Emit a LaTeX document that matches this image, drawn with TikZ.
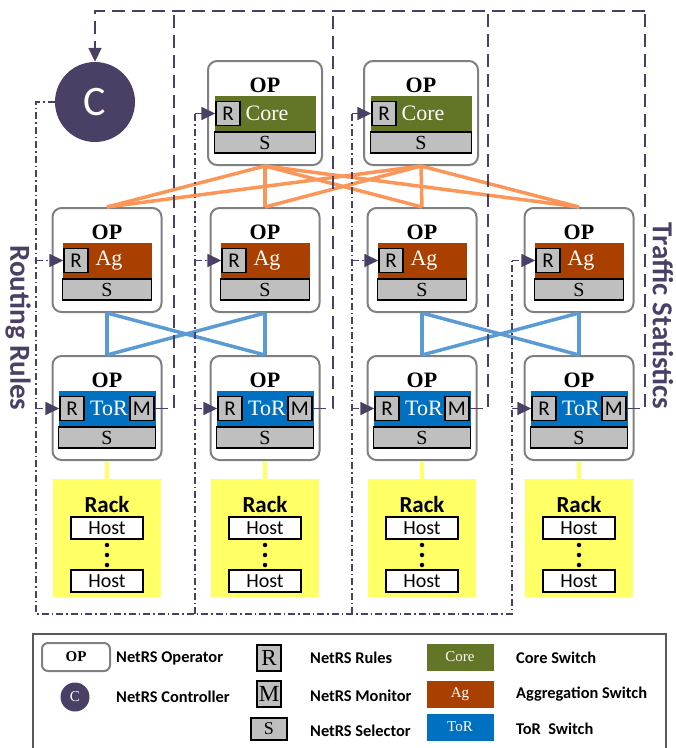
\documentclass[tikz,border=0pt]{standalone}
\usepackage{fontspec}
\setmainfont{Liberation Serif}
\setsansfont{Carlito}
\usetikzlibrary{arrows.meta,calc}
\definecolor{ctrl}{RGB}{74,64,102}
\definecolor{coreg}{RGB}{99,117,38}
\definecolor{agb}{RGB}{170,64,0}
\definecolor{torb}{RGB}{0,112,192}
\definecolor{gfill}{RGB}{191,191,191}
\definecolor{opgray}{RGB}{128,128,128}
\definecolor{orl}{RGB}{252,150,88}
\definecolor{bll}{RGB}{91,155,213}
\definecolor{rackY}{RGB}{255,255,102}
\tikzset{
  opbox/.style={draw=opgray, line width=2pt, rounded corners=9pt, fill=white, minimum width=109pt, minimum height=104pt, inner sep=0pt},
  optext/.style={font=\fontsize{22}{24}\selectfont\bfseries, inner sep=0pt},
  band/.style={rectangle, inner sep=0pt, minimum height=35pt},
  bandtext/.style={text=white, font=\fontsize{22}{24}\selectfont, inner sep=0pt},
  rbox/.style={draw=black, line width=1.6pt, fill=gfill, minimum width=24pt, minimum height=24pt, inner sep=0pt, font=\sffamily\fontsize{21}{22}\selectfont},
  sbar/.style={draw=black, line width=1.6pt, fill=gfill, minimum height=21pt, inner sep=0pt, font=\fontsize{20}{22}\selectfont},
  rackbox/.style={fill=rackY, minimum width=108pt, minimum height=118pt, inner sep=0pt},
  racktext/.style={font=\sffamily\bfseries\fontsize{23}{25}\selectfont, inner sep=0pt},
  hostbox/.style={draw=black, line width=1.6pt, fill=white, minimum width=72pt, minimum height=22pt, inner sep=0pt, font=\sffamily\fontsize{20}{22}\selectfont},
  hdot/.style={circle, fill=black, minimum size=4.5pt, inner sep=0pt},
  trafdash/.style={draw=ctrl, line width=1.8pt, dash pattern=on 13pt off 7pt},
  routedot/.style={draw=ctrl, line width=1.6pt, dash pattern=on 7pt off 3pt on 1.5pt off 3pt},
  arr/.style={-{Triangle[length=14pt,width=13pt,fill=ctrl]}},
  orline/.style={draw=orl, line width=3.5pt},
  blline/.style={draw=bll, line width=3.5pt},
  yline/.style={draw=rackY, line width=4pt},
  sidetext/.style={text=ctrl, font=\sffamily\bfseries\fontsize{29}{31}\selectfont, rotate=-90, inner sep=0pt},
  legtext/.style={font=\sffamily\bfseries\fontsize{16.4}{18}\selectfont, anchor=west, inner sep=0pt},
  legsw/.style={minimum width=67pt, minimum height=27pt, inner sep=0pt, text=white, font=\fontsize{15}{17}\selectfont},
  legsq/.style={draw=black, line width=1.5pt, fill=gfill, inner sep=0pt, font=\fontsize{23}{24}\selectfont}
}
% #1 name, #2 xc, #3 ytop, #4 colour, #5 label, #6 band width, #7 box width
\newcommand{\mkswitch}[7]{%
  \node[opbox, minimum width=#7, anchor=north] (#1) at (#2,#3) {};
  \node[optext] (#1-op) at ($(#1.north)+(0,25)$) {OP};
  \node[band, fill=#4, minimum width=#6] (#1-band) at ($(#1.north)+(0,53.5)$) {};
  \node[bandtext] (#1-lbl) at ($(#1-band.center)+(2,0)$) {#5};
  \node[sbar, minimum width=#6, anchor=north] (#1-s) at (#1-band.south) {S};
  \node[rbox, anchor=west] (#1-r) at ($(#1-band.west)+(1,0)$) {R};
}
\newcommand{\mkrack}[2]{%
  \node[rackbox, anchor=north] (#1) at (#2,479) {};
  \node[racktext] (#1-t) at ($(#1.north)+(0,26)$) {Rack};
  \node[hostbox] (#1-h1) at ($(#1.north)+(0,49)$) {Host};
  \node[hdot] (#1-d1) at ($(#1.north)+(0,66)$) {};
  \node[hdot] (#1-d2) at ($(#1.north)+(0,76)$) {};
  \node[hdot] (#1-d3) at ($(#1.north)+(0,86)$) {};
  \node[hostbox] (#1-h2) at ($(#1.north)+(0,102)$) {Host};
}
\begin{document}
\begin{tikzpicture}[x=1pt,y=-1pt]
\useasboundingbox (0,0) rectangle (676,748);

% controller
\node[circle, fill=ctrl, minimum size=80pt, inner sep=0pt, text=white, font=\sffamily\fontsize{42}{44}\selectfont] (C) at (95,102) {C};

% switches
\mkswitch{core1}{265}{60}{coreg}{Core}{101pt}{114pt}
\mkswitch{core2}{421}{60}{coreg}{Core}{101pt}{114pt}
\mkswitch{ag1}{107}{207}{agb}{Ag}{89pt}{109pt}
\mkswitch{ag2}{265}{207}{agb}{Ag}{89pt}{109pt}
\mkswitch{ag3}{422}{207}{agb}{Ag}{89pt}{109pt}
\mkswitch{ag4}{579}{207}{agb}{Ag}{89pt}{109pt}
\mkswitch{tor1}{107}{355}{torb}{ToR}{97pt}{109pt}
\mkswitch{tor2}{265}{355}{torb}{ToR}{97pt}{109pt}
\mkswitch{tor3}{422}{355}{torb}{ToR}{97pt}{109pt}
\mkswitch{tor4}{579}{355}{torb}{ToR}{97pt}{109pt}
\foreach \i in {1,2,3,4}{
  \node[rbox, anchor=east] (tor\i-m) at ($(tor\i-band.east)+(-1,0)$) {M};
}

% racks
\mkrack{rack1}{107}
\mkrack{rack2}{265}
\mkrack{rack3}{422}
\mkrack{rack4}{579}

% core - aggregation
\foreach \c in {core1,core2}{
  \foreach \a in {ag1,ag2,ag3,ag4}{
    \draw[orline] (\c.south) -- (\a.north);
  }
}
% aggregation - tor
\draw[blline] (ag1.south) -- (tor1.north);
\draw[blline] (ag1.south) -- (tor2.north);
\draw[blline] (ag2.south) -- (tor1.north);
\draw[blline] (ag2.south) -- (tor2.north);
\draw[blline] (ag3.south) -- (tor3.north);
\draw[blline] (ag3.south) -- (tor4.north);
\draw[blline] (ag4.south) -- (tor3.north);
\draw[blline] (ag4.south) -- (tor4.north);
% tor - rack
\foreach \i in {1,2,3,4}{
  \draw[yline] (tor\i.south) -- (rack\i.north);
}

% traffic statistics (dashed)
\coordinate (t1) at (174,11);
\coordinate (t2) at (333,11);
\coordinate (t3) at (488,11);
\coordinate (t4) at (645,11);
\foreach \i in {1,2,3,4}{
  \draw[trafdash] (tor\i-m.east) -- (tor\i-m.east -| t\i) -- (t\i);
}
\draw[trafdash, arr] (t4) -- (C.north |- t4) -- (C.north);

% routing rules (dash-dot)
\coordinate (r1) at (36,614);
\coordinate (r2) at (195,614);
\coordinate (r3) at (352,614);
\coordinate (r4) at (512,614);
\draw[routedot] (C.west) -- (C.west -| r1) -- (r1) -- (r4) -- (r4 |- ag4-r.west);
\draw[routedot] (r2) -- (r2 |- core1-r.west);
\draw[routedot] (r3) -- (r3 |- core2-r.west);
\draw[routedot, arr] (ag1-r.west -| r1) -- (ag1-r.west);
\draw[routedot, arr] (tor1-r.west -| r1) -- (tor1-r.west);
\draw[routedot, arr] (core1-r.west -| r2) -- (core1-r.west);
\draw[routedot, arr] (ag2-r.west -| r2) -- (ag2-r.west);
\draw[routedot, arr] (tor2-r.west -| r2) -- (tor2-r.west);
\draw[routedot, arr] (core2-r.west -| r3) -- (core2-r.west);
\draw[routedot, arr] (ag3-r.west -| r3) -- (ag3-r.west);
\draw[routedot, arr] (tor3-r.west -| r3) -- (tor3-r.west);
\draw[routedot, arr] (ag4-r.west -| r4) -- (ag4-r.west);
\draw[routedot, arr] (tor4-r.west -| r4) -- (tor4-r.west);

% side labels
\node[sidetext] (rr) at (18,328) {Routing Rules};
\node[sidetext] (ts) at (663,316) {Traffic Statistics};

% legend
\draw[draw=black!65, line width=1.5pt] (33,749) -- (33,634) -- (666,634) -- (666,749);
\node[draw=opgray, line width=2pt, rounded corners=6pt, minimum width=68pt, minimum height=28pt, inner sep=0pt, font=\bfseries\fontsize{15}{17}\selectfont] (lop) at (76,657) {OP};
\node[legtext] (lopt) at (116,658) {NetRS Operator};
\node[circle, fill=ctrl, minimum size=29pt, inner sep=0pt, text=white, font=\fontsize{15}{17}\selectfont] (lc) at (75,697) {C};
\node[legtext] (lct) at (116,697) {NetRS Controller};
\node[legsq, minimum width=24pt, minimum height=26pt] (lr) at (269,658) {R};
\node[legtext] (lrt) at (310,658) {NetRS Rules};
\node[legsq, minimum width=24pt, minimum height=26pt] (lm) at (269,694) {M};
\node[legtext] (lmt) at (310,696) {NetRS Monitor};
\node[legsq, minimum width=36pt, minimum height=22pt, font=\fontsize{18}{20}\selectfont] (ls) at (269,729) {S};
\node[legtext] (lst) at (310,731) {NetRS Selector};
\node[legsw, fill=coreg] (lcore) at (460,657) {Core};
\node[legtext] (lcoret) at (516,658) {Core Switch};
\node[legsw, fill=agb] (lag) at (460,694) {Ag};
\node[legtext] (lagt) at (516,694) {Aggregation Switch};
\node[legsw, fill=torb] (ltor) at (460,727) {ToR};
\node[legtext] (ltort) at (516,729) {ToR\ \ Switch};
\end{tikzpicture}
\end{document}
